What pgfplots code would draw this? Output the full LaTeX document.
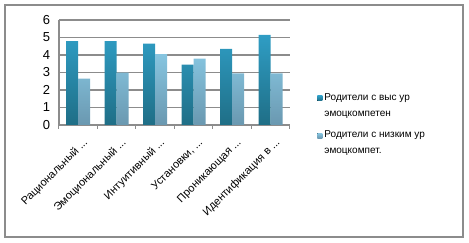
\documentclass[border=0pt]{standalone}
\usepackage{fontspec}
\setmainfont{Liberation Sans}
\usepackage{pgfplots}
\pgfplotsset{compat=1.18}
\newcommand\tdots{...}
\definecolor{gridgray}{HTML}{8C8C8C}
\definecolor{darkT}{HTML}{2F9DC4}
\definecolor{darkB}{HTML}{1F6E86}
\definecolor{lightT}{HTML}{86C5E0}
\definecolor{lightB}{HTML}{6A98B0}
\begin{document}
\begin{tikzpicture}[x=1pt,y=1pt]
\path[use as bounding box] (-59pt,-118pt) rectangle (410pt,125pt);
\draw[gridgray, line width=2pt] (-54pt,-112pt) rectangle (404pt,120pt);
\begin{axis}[
  at={(0pt,0pt)}, anchor=south west,
  width=231pt, height=105pt, scale only axis,
  ybar=0pt, bar width=12pt,
  xmin=-0.5, xmax=5.5, ymin=0, ymax=6,
  xtick={0,...,5},
  xticklabels={{Рациональный \tdots}, {Эмоциональный \tdots}, {Интуитивный \tdots}, {Установки, \tdots}, {Проникающая \tdots}, {Идентификация в \tdots}},
  minor xtick={-0.5,0.5,1.5,2.5,3.5,4.5,5.5},
  major x tick style={draw=none},
  minor x tick style={gridgray, line width=1pt},
  minor tick length=4pt,
  tick align=outside,
  ytick={0,...,6},
  major y tick style={draw=none},
  ymajorgrids,
  grid style={gridgray, line width=1.5pt},
  axis x line*=bottom, axis y line*=left,
  axis line style={gridgray, line width=1.5pt},
  x axis line style={-}, y axis line style={-},
  /pgf/number format/assume math mode=true,
  yticklabel style={font=\fontsize{13}{14}\selectfont, xshift=-1pt},
  xticklabel style={font=\fontsize{11}{12}\selectfont, xshift=4pt, yshift=-8pt, rotate=45, anchor=north east, inner sep=0pt},
  legend style={at={(axis description cs:1.105,0.005)}, anchor=west, draw=none, fill=none,
    font=\fontsize{10}{16}\selectfont, cells={align=left}, row sep=9pt},
  legend cell align=left,
  legend image code/.code={\fill[#1] (2pt,5pt) rectangle (7pt,10pt);},
  clip=false,
]
\addplot[draw=none, shading=axis, top color=darkT, bottom color=darkB] coordinates {(0,4.8) (1,4.8) (2,4.65) (3,3.45) (4,4.35) (5,5.15)};
\addplot[draw=none, shading=axis, top color=lightT, bottom color=lightB] coordinates {(0,2.65) (1,3.0) (2,4.05) (3,3.8) (4,2.95) (5,2.95)};
\legend{Родители с выс ур\\эмоцкомпетен, Родители с низким ур\\эмоцкомпет.}
\end{axis}
\end{tikzpicture}
\end{document}
